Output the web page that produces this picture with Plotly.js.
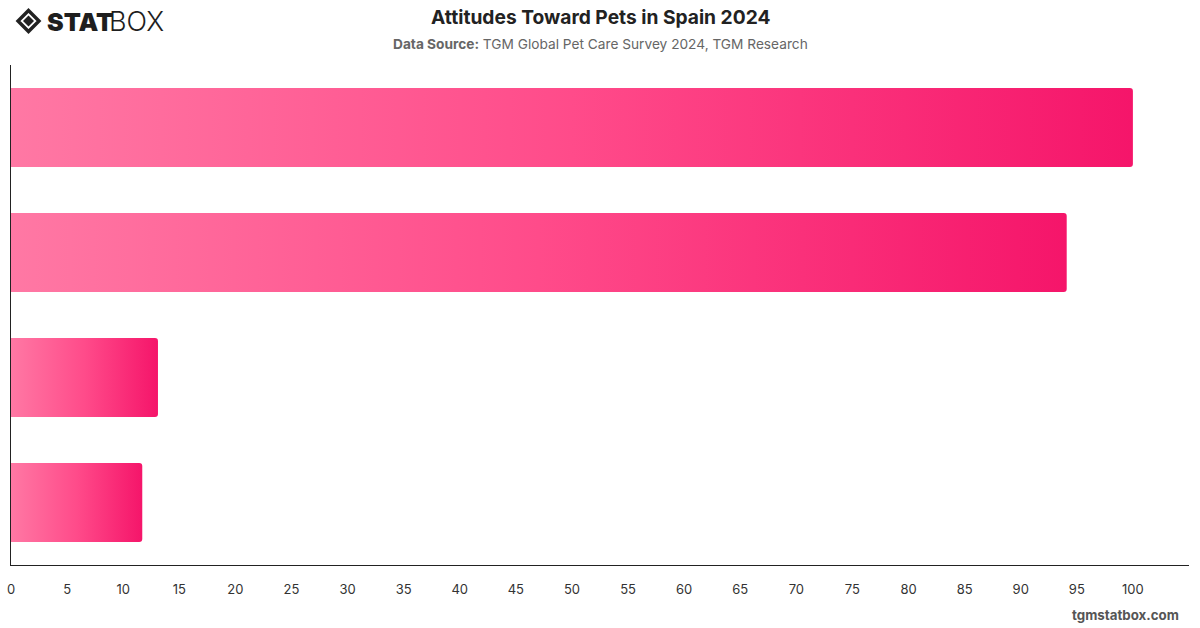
<!DOCTYPE html>
<html>
<head>
<meta charset="utf-8">
<script src="https://cdn.plot.ly/plotly-3.0.1.min.js"></script>
<style>
  html, body { margin: 0; padding: 0; background: #fff; }
  #chart { width: 1200px; height: 628px; }
</style>
</head>
<body>
<div id="chart"></div>
<script>
// Survey statements (top to bottom) and share of respondents, %
const statements = ["Statement 1", "Statement 2", "Statement 3", "Statement 4"];
const shares = [100, 94.1, 13.1, 11.7];
const xTicks = [0, 5, 10, 15, 20, 25, 30, 35, 40, 45, 50, 55, 60, 65, 70, 75, 80, 85, 90, 95, 100];

const W = 1200, H = 628;
const M = { l: 11, r: 11, t: 65, b: 63 };
const pw = W - M.l - M.r, ph = H - M.t - M.b;
const px = x => (x - M.l) / pw;
const py = y => (H - M.b - y) / ph;

// Brand mark: outlined diamond with a solid diamond inside
function diamondPath(cx, cy, r) {
  return `M ${px(cx)} ${py(cy - r)} L ${px(cx + r)} ${py(cy)} L ${px(cx)} ${py(cy + r)} L ${px(cx - r)} ${py(cy)} Z`;
}

const trace = {
  type: "bar",
  orientation: "h",
  y: statements,
  x: shares,
  marker: { color: "#ff4a8a", cornerradius: 3, line: { width: 0 } },
  hoverinfo: "x"
};

const layout = {
  width: W, height: H,
  margin: M,
  paper_bgcolor: "#fff",
  plot_bgcolor: "#fff",
  showlegend: false,
  bargap: 0.368,
  font: { family: "Inter, 'Noto Sans', sans-serif", color: "#333" },
  xaxis: {
    range: [0, 105],
    tickvals: xTicks,
    ticks: "",
    showgrid: false,
    zeroline: false,
    showline: true,
    linecolor: "#222",
    linewidth: 1,
    ticklabelstandoff: 12,
    tickfont: { size: 13, color: "#333" },
    fixedrange: true
  },
  yaxis: {
    type: "category",
    autorange: "reversed",
    showticklabels: false,
    ticks: "",
    showgrid: false,
    zeroline: false,
    showline: true,
    linecolor: "#222",
    linewidth: 1,
    fixedrange: true
  },
  shapes: [
    { type: "path", xref: "paper", yref: "paper", path: diamondPath(28.5, 21, 10.5),
      fillcolor: "rgba(0,0,0,0)", line: { color: "#222", width: 3.4 } },
    { type: "path", xref: "paper", yref: "paper", path: diamondPath(28.5, 21, 5.5),
      fillcolor: "#222", line: { color: "#222", width: 0 } }
  ],
  annotations: [
    { xref: "paper", yref: "paper", x: 0.5, y: py(17), xanchor: "center", yanchor: "middle",
      text: "<b>Attitudes Toward Pets in Spain 2024</b>", showarrow: false,
      font: { size: 19.2, color: "#222", family: "Inter, sans-serif" } },
    { xref: "paper", yref: "paper", x: 0.5, y: py(44), xanchor: "center", yanchor: "middle",
      text: "<b>Data Source:</b> TGM Global Pet Care Survey 2024, TGM Research", showarrow: false,
      font: { size: 13.7, color: "#666", family: "Inter, sans-serif" } },
    { xref: "paper", yref: "paper", x: px(45), y: py(22), xanchor: "left", yanchor: "middle",
      text: "STAT", showarrow: false,
      font: { size: 25, color: "#1e1e1e", family: "Inter, 'DejaVu Sans', sans-serif", weight: 900 } },
    { xref: "paper", yref: "paper", x: px(107), y: py(22), xanchor: "left", yanchor: "middle",
      text: "BOX", showarrow: false,
      font: { size: 27, color: "#1e1e1e", family: "Inter, 'DejaVu Sans', sans-serif", weight: 300 } },
    { xref: "paper", yref: "paper", x: px(1181), y: py(615), xanchor: "right", yanchor: "middle",
      text: "<b>tgmstatbox.com</b>", showarrow: false,
      font: { size: 13.3, color: "#555", family: "Inter, sans-serif" } }
  ]
};

// Fill every bar with a left-to-right pink gradient
function applyGradient(gd) {
  const svg = gd.querySelector(".main-svg");
  if (!svg) return;
  const ns = "http://www.w3.org/2000/svg";
  if (!svg.querySelector("#barGrad")) {
    let defs = svg.querySelector("defs");
    if (!defs) { defs = document.createElementNS(ns, "defs"); svg.insertBefore(defs, svg.firstChild); }
    const g = document.createElementNS(ns, "linearGradient");
    g.setAttribute("id", "barGrad");
    g.setAttribute("x1", "0"); g.setAttribute("y1", "0");
    g.setAttribute("x2", "1"); g.setAttribute("y2", "0");
    [["0", "#ff78a4"], ["0.5", "#ff4b8a"], ["1", "#f5156a"]].forEach(([o, c]) => {
      const s = document.createElementNS(ns, "stop");
      s.setAttribute("offset", o); s.setAttribute("stop-color", c);
      g.appendChild(s);
    });
    defs.appendChild(g);
  }
  gd.querySelectorAll(".trace.bars .point path").forEach(p => {
    p.style.fill = "url(#barGrad)";
  });
}

const gd = document.getElementById("chart");
Plotly.newPlot(gd, [trace], layout, { displayModeBar: false, staticPlot: true }).then(() => {
  applyGradient(gd);
  gd.on && gd.on("plotly_afterplot", () => applyGradient(gd));
});
</script>
</body>
</html>
